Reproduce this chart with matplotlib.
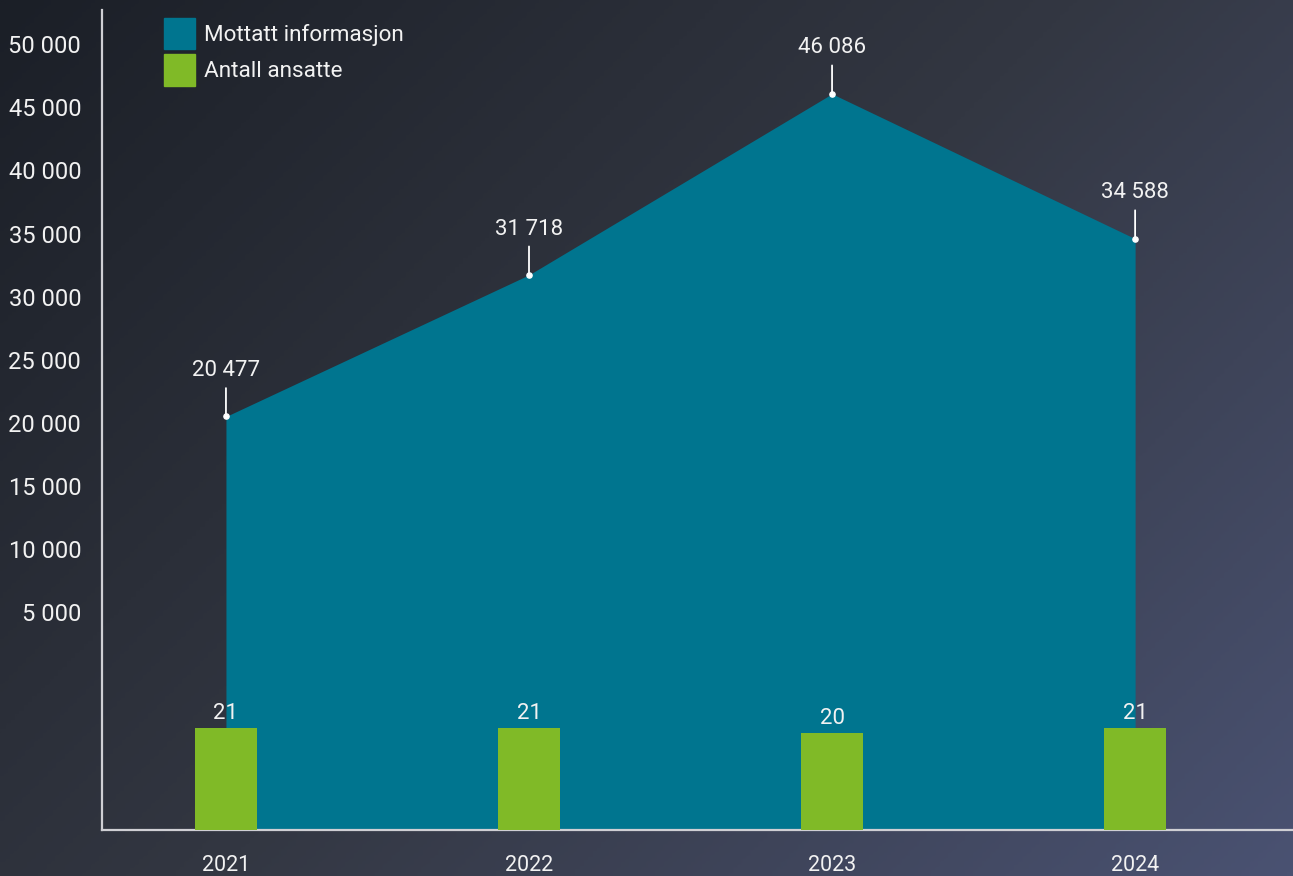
import numpy as np
import matplotlib.pyplot as plt
from matplotlib.patches import Patch
from matplotlib.colors import LinearSegmentedColormap

years = ["2021", "2022", "2023", "2024"]
info_received = [20477, 31718, 46086, 34588]
employees = [21, 21, 20, 21]
y_ticks = [5000, 10000, 15000, 20000, 25000, 30000, 35000, 40000, 45000, 50000]

TEAL = "#00758f"
GREEN = "#80ba27"
TEXT = "#f2f2f2"
AXIS = "#cfcfd4"

plt.rcParams["font.family"] = ["Roboto", "DejaVu Sans"]


def fmt(v):
    return "{:,}".format(v).replace(",", " ")


fig = plt.figure(figsize=(12.93, 8.76), dpi=100)

# diagonal dark background
bg = fig.add_axes([0, 0, 1, 1], zorder=-10)
gx, gy = np.meshgrid(np.linspace(0, 1, 300), np.linspace(0, 1, 300))
grad = (gx * 0.6 + gy * 0.4)
cmap = LinearSegmentedColormap.from_list("bg", ["#1b1f27", "#333742", "#4a5272"])
bg.imshow(grad, cmap=cmap, aspect="auto", extent=[0, 1, 0, 1], origin="upper")
bg.axis("off")

ax = fig.add_axes([102 / 1293, 1 - 830 / 876, 1 - 102 / 1293, 820 / 876])
ax.set_facecolor("none")
x = np.arange(len(years))

ax.fill_between(x, info_received, -12341, color=TEAL, lw=0, zorder=1)
ax.scatter(x, info_received, s=14, color="white", zorder=4)
for xi, v in zip(x, info_received):
    ax.annotate(fmt(v), (xi, v), xytext=(0, 33), textcoords="offset points",
                ha="center", va="center", color=TEXT, fontsize=16,
                arrowprops=dict(arrowstyle="-", color="white", lw=1.3,
                                shrinkA=3, shrinkB=0, relpos=(0.5, 0)))

ax.set_xlim(-0.409, 3.521)
ax.set_ylim(-12341, 52738)
ax.set_yticks(y_ticks)
ax.set_yticklabels([fmt(t) for t in y_ticks])
ax.set_xticks(x)
ax.set_xticklabels(years)
ax.tick_params(axis="both", length=0, colors=TEXT)
ax.tick_params(axis="y", pad=15, labelsize=17)
ax.tick_params(axis="x", pad=18, labelsize=15.5)
for s in ["top", "right"]:
    ax.spines[s].set_visible(False)
for s in ["left", "bottom"]:
    ax.spines[s].set_color(AXIS)
    ax.spines[s].set_linewidth(1.6)

# employee count on its own hidden scale
ax2 = ax.twinx()
ax2.set_ylim(0, 168.8)
bars = ax2.bar(x, employees, width=0.205, color=GREEN, zorder=3)
ax2.bar_label(bars, labels=[str(e) for e in employees], padding=3,
              color=TEXT, fontsize=16)
ax2.axis("off")

handles = [Patch(color=TEAL), Patch(color=GREEN)]
ax.legend(handles, ["Mottatt informasjon", "Antall ansatte"],
          loc="upper left", bbox_to_anchor=(164 / 1293, 1 - 18 / 876),
          bbox_transform=fig.transFigure, frameon=False, fontsize=16.2,
          handlelength=1.38, handleheight=1.77, handletextpad=0.4,
          labelspacing=0.22, borderpad=0, borderaxespad=0,
          labelcolor=TEXT)

fig.savefig("out.png", dpi=100)
